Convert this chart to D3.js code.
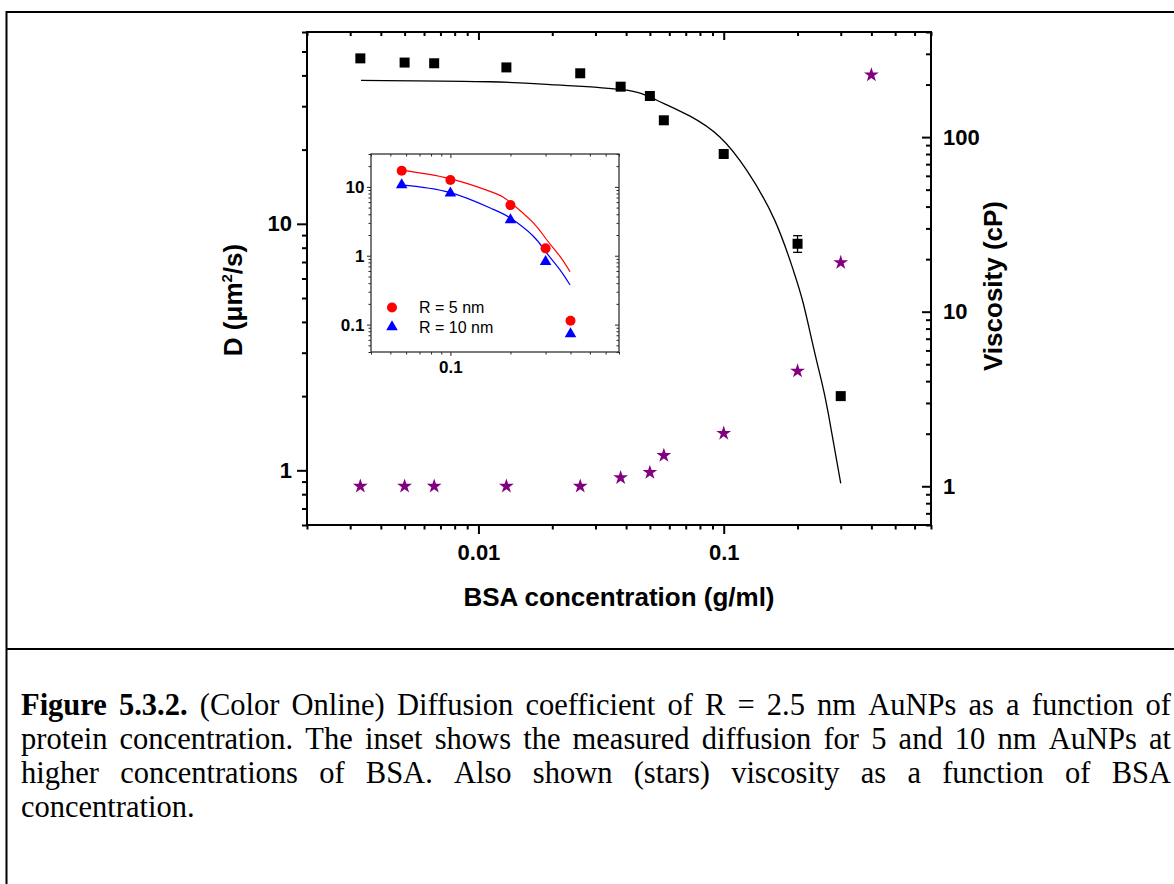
<!DOCTYPE html>
<html>
<head>
<meta charset="utf-8">
<script src="https://cdn.jsdelivr.net/npm/d3@7"></script>
<style>
  html, body { margin: 0; padding: 0; background: #fff; }
  svg { display: block; }
</style>
</head>
<body>
<svg id="fig" width="1174" height="884"></svg>
<script>
// ---- Diffusion of R = 2.5 nm AuNPs vs BSA concentration (left axis) ----
const concentration = [0.0033, 0.005, 0.0066, 0.013, 0.026, 0.038, 0.05, 0.057, 0.1, 0.2, 0.3];
const diffusion     = [46.9, 45.1, 44.8, 43.1, 40.8, 36.0, 33.0, 26.3, 19.2, 8.3, 2.0];

// error bar on the 0.2 g/ml point
const errConc = [0.2];
const errLow  = [7.66];
const errHigh = [8.95];

// fitted diffusion curve
const fitConc = [0.00332, 0.0111, 0.0207, 0.0388, 0.0531, 0.0726, 0.0964, 0.124, 0.161, 0.192, 0.211, 0.232, 0.250, 0.267, 0.300];
const fitD    = [38.2, 37.7, 36.6, 35.0, 31.8, 27.4, 22.5, 16.5, 10.4, 6.5, 4.76, 3.17, 2.32, 1.70, 0.886];

// ---- Viscosity (stars, right axis) ----
const viscConc  = [0.0033, 0.005, 0.0066, 0.013, 0.026, 0.038, 0.05, 0.057, 0.1, 0.2, 0.3, 0.4];
const viscosity = [1.0, 1.0, 1.0, 1.0, 1.0, 1.12, 1.20, 1.50, 2.01, 4.57, 19.1, 227];

// ---- Inset: 5 nm and 10 nm particles ----
const insetConc = [0.057, 0.1, 0.2, 0.3, 0.4];
const insetR5   = [17.1, 12.6, 5.43, 1.28, 0.114];
const insetR10  = [10.7, 8.1, 3.3, 0.82, 0.073];
const insetFitConc = [0.0564, 0.0992, 0.163, 0.200, 0.259, 0.302, 0.352, 0.398];
const insetFitR5   = [17.5, 13.2, 8.3, 5.94, 3.05, 1.75, 1.0, 0.586];
const insetFitR10  = [10.7, 8.3, 4.75, 3.52, 1.95, 1.12, 0.641, 0.376];
const legendLabels = ["R = 5 nm", "R = 10 nm"];

// ---- Tick labels ----
const xTicks = [0.01, 0.1],        xTickLabels = ["0.01", "0.1"];
const dTicks = [1, 10],            dTickLabels = ["1", "10"];
const vTicks = [1, 10, 100],       vTickLabels = ["1", "10", "100"];
const ixTicks = [0.1],             ixTickLabels = ["0.1"];
const iyTicks = [0.1, 1, 10],      iyTickLabels = ["0.1", "1", "10"];

// ---- Caption ----
const captionBold = "Figure 5.3.2.";
const captionLines = [
  "Figure 5.3.2. (Color Online) Diffusion coefficient of R = 2.5 nm AuNPs as a function of",
  "protein concentration. The inset shows the measured diffusion for 5 and 10 nm AuNPs at",
  "higher concentrations of BSA. Also shown (stars) viscosity as a function of BSA",
  "concentration."
];

// ================= drawing =================
const SANS = "'Liberation Sans', Arial, Helvetica, sans-serif";
const SERIF = "'Liberation Serif', 'Times New Roman', serif";
const svg = d3.select("#fig");

// figure box with divider above the caption
svg.append("rect").attr("x", 6.5).attr("y", 12).attr("width", 1200).attr("height", 900)
  .attr("fill", "none").attr("stroke", "#000").attr("stroke-width", 2);
svg.append("line").attr("x1", 6.5).attr("x2", 1174).attr("y1", 649).attr("y2", 649)
  .attr("stroke", "#000").attr("stroke-width", 2);

const P = { left: 307, right: 931, top: 32, bottom: 525 };
const I = { left: 371, right: 619, top: 154, bottom: 352 };

const x  = d3.scaleLog().domain([0.002, 0.7]).range([P.left, P.right]);
const yD = d3.scaleLog().domain([0.6, 60]).range([P.bottom, P.top]);
const yV = d3.scaleLog().domain([0.6, 400]).range([P.bottom, P.top]);
const ix = d3.scaleLog().domain([0.04, 0.7]).range([I.left, I.right]);
const iy = d3.scaleLog().domain([0.04, 30]).range([I.bottom, I.top]);

function drawAxis(parent, orient, scale, pos, majors, labels, o) {
  const isMajor = d => majors.some(m => Math.abs(Math.log10(d) - Math.log10(m)) < 1e-6);
  const minors = scale.ticks().filter(d => !isMajor(d));
  const make = { bottom: d3.axisBottom, top: d3.axisTop, left: d3.axisLeft, right: d3.axisRight }[orient];
  const tr = (orient === "bottom" || orient === "top") ? `translate(0,${pos})` : `translate(${pos},0)`;
  const gMin = parent.append("g").attr("transform", tr)
    .call(make(scale).tickValues(minors).tickSize(o.minor).tickFormat(""));
  const gMaj = parent.append("g").attr("transform", tr)
    .call(make(scale).tickValues(majors).tickSize(o.major).tickPadding(o.pad || 0)
      .tickFormat((d, i) => labels ? labels[i] : ""));
  [gMin, gMaj].forEach(g => {
    g.select(".domain").remove();
    g.selectAll("line").attr("stroke", o.color || "#000").attr("stroke-width", o.sw);
  });
  gMaj.selectAll("text").attr("font-family", SANS).attr("font-size", o.fs || 10)
    .attr("font-weight", "bold").attr("fill", "#000");
  return gMaj;
}

// ----- main plot -----
const main = svg.append("g");

// fitted curve
main.append("path")
  .datum(fitConc.map((c, i) => [c, fitD[i]]))
  .attr("fill", "none").attr("stroke", "#000").attr("stroke-width", 1.3)
  .attr("d", d3.line().x(d => x(d[0])).y(d => yD(d[1])).curve(d3.curveNatural));

// error bar
errConc.forEach((c, i) => {
  const cx = x(c);
  main.append("line").attr("x1", cx).attr("x2", cx).attr("y1", yD(errLow[i])).attr("y2", yD(errHigh[i]))
    .attr("stroke", "#000").attr("stroke-width", 1.3);
  [errLow[i], errHigh[i]].forEach(v => {
    main.append("line").attr("x1", cx - 4.5).attr("x2", cx + 4.5).attr("y1", yD(v)).attr("y2", yD(v))
      .attr("stroke", "#000").attr("stroke-width", 1.3);
  });
});

// diffusion squares
main.selectAll("path.sq").data(concentration).join("path").attr("class", "sq")
  .attr("d", d3.symbol(d3.symbolSquare, 100))
  .attr("transform", (c, i) => `translate(${x(c)},${yD(diffusion[i])})`)
  .attr("fill", "#000");

// viscosity stars
main.selectAll("path.star").data(viscConc).join("path").attr("class", "star")
  .attr("d", d3.symbol(d3.symbolStar, 68))
  .attr("transform", (c, i) => `translate(${x(c)},${yV(viscosity[i])})`)
  .attr("fill", "#800080");

// axes
const mainOpt = { sw: 2, fs: 22 };
drawAxis(main, "bottom", x, P.bottom, xTicks, xTickLabels, { ...mainOpt, major: 9, minor: 4.5, pad: 10 });
drawAxis(main, "top", x, P.top, xTicks, null, { ...mainOpt, major: -8, minor: -4 });
drawAxis(main, "left", yD, P.left, dTicks, dTickLabels, { ...mainOpt, major: 10, minor: 5, pad: 5 });
drawAxis(main, "right", yV, P.right, vTicks, vTickLabels, { ...mainOpt, major: -9, minor: -5, pad: 12 });

main.append("rect").attr("x", P.left).attr("y", P.top)
  .attr("width", P.right - P.left).attr("height", P.bottom - P.top)
  .attr("fill", "none").attr("stroke", "#000").attr("stroke-width", 2);

// axis titles
main.append("text").attr("x", (P.left + P.right) / 2).attr("y", 606)
  .attr("text-anchor", "middle").attr("font-family", SANS).attr("font-size", 26).attr("font-weight", "bold")
  .text("BSA concentration (g/ml)");

const dTitle = main.append("text").attr("transform", "translate(242,300) rotate(-90)")
  .attr("text-anchor", "middle").attr("font-family", SANS).attr("font-size", 26).attr("font-weight", "bold");
dTitle.append("tspan").text("D (\u03bcm");
dTitle.append("tspan").attr("font-size", 15).attr("dy", -10).text("2");
dTitle.append("tspan").attr("dy", 10).text("/s)");

main.append("text").attr("transform", "translate(1002,286) rotate(-90)")
  .attr("text-anchor", "middle").attr("font-family", SANS).attr("font-size", 26).attr("font-weight", "bold")
  .text("Viscosity (cP)");

// ----- inset -----
const inset = svg.append("g");
inset.append("rect").attr("x", I.left).attr("y", I.top)
  .attr("width", I.right - I.left).attr("height", I.bottom - I.top)
  .attr("fill", "#fff");

const insetLine = d3.line().x(d => ix(d[0])).y(d => iy(d[1])).curve(d3.curveNatural);
inset.append("path").datum(insetFitConc.map((c, i) => [c, insetFitR5[i]]))
  .attr("fill", "none").attr("stroke", "#ff0000").attr("stroke-width", 1.2).attr("d", insetLine);
inset.append("path").datum(insetFitConc.map((c, i) => [c, insetFitR10[i]]))
  .attr("fill", "none").attr("stroke", "#0000ff").attr("stroke-width", 1.2).attr("d", insetLine);

inset.selectAll("circle.r5").data(insetConc).join("circle").attr("class", "r5")
  .attr("cx", c => ix(c)).attr("cy", (c, i) => iy(insetR5[i])).attr("r", 5)
  .attr("fill", "#ff0000");
inset.selectAll("path.r10").data(insetConc).join("path").attr("class", "r10")
  .attr("d", d3.symbol(d3.symbolTriangle, 58))
  .attr("transform", (c, i) => `translate(${ix(c)},${iy(insetR10[i])})`)
  .attr("fill", "#0000ff");

const inOpt = { sw: 1, fs: 17, color: "#222" };
drawAxis(inset, "bottom", ix, I.bottom, ixTicks, ixTickLabels, { ...inOpt, major: 4, minor: 2.5, pad: 5 });
drawAxis(inset, "top", ix, I.top, ixTicks, null, { ...inOpt, major: -4, minor: -2.5 });
drawAxis(inset, "left", iy, I.left, iyTicks, iyTickLabels, { ...inOpt, major: 4, minor: 2.5, pad: 2.5 });
drawAxis(inset, "right", iy, I.right, iyTicks, null, { ...inOpt, major: -4, minor: -2.5 });

inset.append("rect").attr("x", I.left).attr("y", I.top)
  .attr("width", I.right - I.left).attr("height", I.bottom - I.top)
  .attr("fill", "none").attr("stroke", "#333").attr("stroke-width", 1.3);

// legend
const lg = inset.append("g").attr("font-family", SANS).attr("font-size", 16);
lg.append("circle").attr("cx", 392).attr("cy", 307.5).attr("r", 5).attr("fill", "#ff0000");
lg.append("path").attr("d", d3.symbol(d3.symbolTriangle, 58)).attr("transform", "translate(392,327)").attr("fill", "#0000ff");
lg.append("text").attr("x", 419).attr("y", 313).text(legendLabels[0]);
lg.append("text").attr("x", 419).attr("y", 332.5).text(legendLabels[1]);

// ----- caption (justified except last line) -----
const capLeft = 21, capRight = 1171, capTop = 715, capStep = 34, capSize = 30.5;
const boldWords = captionBold.split(" ").length;
captionLines.forEach((line, li) => {
  const y = capTop + li * capStep;
  const words = line.split(" ");
  const nodes = words.map((w, wi) => svg.append("text")
    .attr("y", y).attr("font-family", SERIF).attr("font-size", capSize)
    .attr("font-weight", (li === 0 && wi < boldWords) ? "bold" : "normal")
    .attr("fill", "#000").text(w));
  const widths = nodes.map(n => n.node().getComputedTextLength());
  const justify = li < captionLines.length - 1;
  const gap = justify ? (capRight - capLeft - d3.sum(widths)) / (words.length - 1) : capSize * 0.25;
  let cx = capLeft;
  nodes.forEach((n, i) => { n.attr("x", cx); cx += widths[i] + gap; });
});
</script>
</body>
</html>
